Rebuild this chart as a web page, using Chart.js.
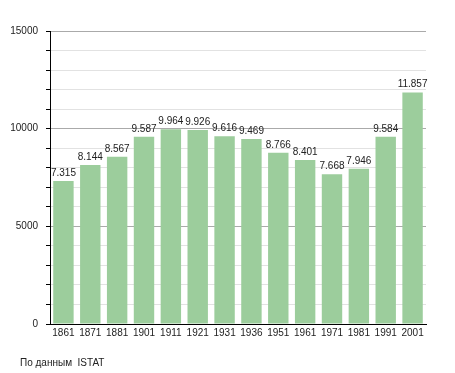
<!DOCTYPE html>
<html>
<head>
<meta charset="utf-8">
<script src="https://cdn.jsdelivr.net/npm/chart.js@4/dist/chart.umd.min.js"></script>
<style>
  html, body { margin: 0; padding: 0; background: #fff; }
  #wrap { position: relative; width: 455px; height: 373px; }
  #source {
    position: absolute; left: 20px; top: 357px;
    font: 10px "Liberation Sans", Arial, sans-serif; color: #222;
    white-space: pre;
  }
</style>
</head>
<body>
<div id="wrap">
  <canvas id="chart" width="455" height="373"></canvas>
  <div id="source">По данным  ISTAT</div>
</div>
<script>
// Population by census year
const years = ['1861', '1871', '1881', '1901', '1911', '1921', '1931', '1936', '1951', '1961', '1971', '1981', '1991', '2001'];
const population = [7315, 8144, 8567, 9587, 9964, 9926, 9616, 9469, 8766, 8401, 7668, 7946, 9584, 11857];
const yMax = 15000;

const FONT = '"Liberation Sans", Arial, sans-serif';

// Format numbers with dot as thousands separator (7.315)
function formatValue(v) {
    return String(v).replace(/\B(?=(\d{3})+(?!\d))/g, '.');
}

// Draw value labels above each bar
const valueLabels = {
    id: 'valueLabels',
    afterDatasetsDraw(chart) {
        const ctx = chart.ctx;
        const meta = chart.getDatasetMeta(0);
        ctx.save();
        ctx.font = '10px ' + FONT;
        ctx.fillStyle = '#222';
        ctx.textAlign = 'center';
        ctx.textBaseline = 'alphabetic';
        meta.data.forEach((bar, i) => {
            ctx.fillText(formatValue(population[i]), bar.x, bar.y - 5);
        });
        ctx.restore();
    }
};

const ctx = document.getElementById('chart').getContext('2d');
new Chart(ctx, {
    type: 'bar',
    data: {
        labels: years,
        datasets: [{
            data: population,
            backgroundColor: '#9ccd9c',
            borderWidth: 0,
            categoryPercentage: 1,
            barPercentage: 0.76
        }]
    },
    options: {
        responsive: false,
        animation: false,
        layout: {
            padding: { left: 0, right: 29, top: 31, bottom: 29 }
        },
        plugins: {
            legend: { display: false },
            tooltip: { enabled: false }
        },
        scales: {
            x: {
                grid: { display: false, drawTicks: false },
                border: { display: true, color: '#000', width: 1 },
                ticks: {
                    padding: 3,
                    color: '#222',
                    font: { family: FONT, size: 10 },
                    maxRotation: 0,
                    autoSkip: false
                },
                afterFit(scale) { scale.height = 20; }
            },
            y: {
                min: 0,
                max: yMax,
                grid: {
                    color: c => (c.tick && c.tick.value % 5000 === 0) ? '#aaaaaa' : '#e2e2e2',
                    tickColor: '#000',
                    tickLength: 4
                },
                border: { display: true, color: '#000', width: 1 },
                ticks: {
                    stepSize: 1000,
                    padding: 8,
                    color: '#222',
                    font: { family: FONT, size: 10 },
                    callback: v => v % 5000 === 0 ? String(v) : ''
                },
                afterFit(scale) { scale.width = 50; }
            }
        }
    },
    plugins: [valueLabels]
});
</script>
</body>
</html>
